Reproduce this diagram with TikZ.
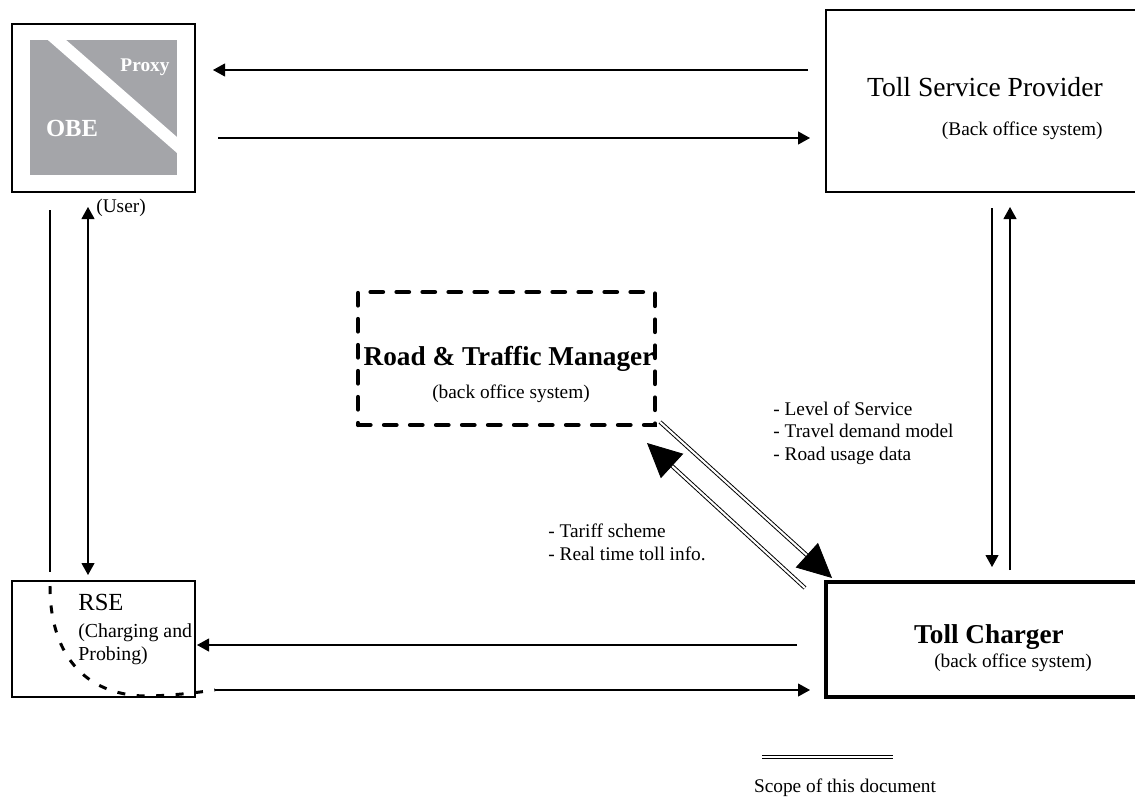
\documentclass[tikz,border=0pt]{standalone}
\usepackage{fontspec}
\setmainfont{Liberation Serif}
\usetikzlibrary{arrows.meta,calc}
\definecolor{obegrey}{RGB}{164,165,169}

\begin{document}
\begin{tikzpicture}[x=0.2mm, y=-0.2mm, >={Triangle[length=2.4mm,width=2.6mm]},
  box/.style={draw, line width=0.8pt, inner sep=0pt, outer sep=0pt},
  dashbox/.style={draw, line width=2.4pt, line cap=round, dash pattern=on 2.5mm off 2.7mm, inner sep=0pt, outer sep=0pt},
  link/.style={line width=0.6pt},
  curvedash/.style={line width=1.7pt, dash pattern=on 1.6mm off 2.3mm},
  scopeline/.style={double, line width=0.55pt, double distance=1.2pt},
  bighead/.style={-{Triangle[length=6.8mm,width=6.6mm]}, line width=0.5pt},
  bigfont/.style={font=\fontsize{15.7}{18}\selectfont},
  boldfont/.style={font=\bfseries\fontsize{15.5}{18}\selectfont},
  smallfont/.style={font=\fontsize{11}{12.8}\selectfont}]
\useasboundingbox (0,0) rectangle (1135,798);
\clip (0,0) rectangle (1135,798);

% boxes
\node[box, minimum width=36.6mm, minimum height=33.6mm] (obe) at (103.5,108) {};
\node[box, minimum width=63.2mm, minimum height=36.4mm] (tsp) at (984,101) {};
\node[box, minimum width=36.6mm, minimum height=23.2mm] (rse) at (103.5,639) {};
\node[box, line width=2.4pt, minimum width=63.2mm, minimum height=23mm] (tc) at (984,639.5) {};
\node[dashbox, minimum width=59.4mm, minimum height=26.6mm] (rtm) at (506.5,358.5) {};

% OBE / proxy block
\fill[obegrey] (30,40) rectangle (177,175);
\begin{scope}
  \clip (30,40) rectangle (177,175);
  \draw[white, line width=2.4mm] (45,29.5) -- (190,156.4);
\end{scope}
\node[text=white, font=\bfseries\fontsize{11}{13}\selectfont, anchor=base] (proxy) at (145,72) {Proxy};
\node[text=white, font=\bfseries\fontsize{14}{16}\selectfont, anchor=base] (obetext) at (72,137) {OBE};
\node[smallfont, anchor=base west, inner sep=0pt] (user) at (96,212) {(User)};

% texts
\node[bigfont, anchor=base east, inner sep=0pt] (tsptitle) at (1103,97) {Toll Service Provider};
\node[smallfont, anchor=base east, inner sep=0pt] (tspsub) at (1103,136) {(Back office system)};
\node[boldfont, anchor=base, inner sep=0pt] (tctitle) at (989,643) {Toll Charger};
\node[smallfont, anchor=base, inner sep=0pt] (tcsub) at (1013,667) {(back office system)};
\node[boldfont, anchor=base, inner sep=0pt] (rtmtitle) at (509,365) {Road \& Traffic Manager};
\node[smallfont, anchor=base, inner sep=0pt] (rtmsub) at (511,398) {(back office system)};
\node[font=\fontsize{14}{16}\selectfont, anchor=base west, inner sep=0pt] (rsetitle) at (78,610) {RSE};
% multi-line nodes: base is the last line
\node[font=\fontsize{11.3}{13}\selectfont, anchor=base west, align=left, inner sep=0pt] (rsesub) at (78,660) {(Charging and\\Probing)};
\node[smallfont, anchor=base west, align=left, inner sep=0pt] (rtmdata) at (773,460) {- Level of Service\\- Travel demand model\\- Road usage data};
\node[smallfont, anchor=base west, align=left, inner sep=0pt] (tcdata) at (548,560) {- Tariff scheme\\- Real time toll info.};

% OBE <-> TSP
\draw[link, ->, shorten <=3.6mm, shorten >=3.6mm] (tsp.west |- 0,70) -- (obe.east |- 0,70);
\draw[link, ->, shorten <=4.6mm, shorten >=3.2mm] (obe.east |- 0,138) -- (tsp.west |- 0,138);

% OBE <-> RSE
\draw[link, <->, shorten <=3mm, shorten >=1.2mm] (obe.south -| 88,0) -- (rse.north -| 88,0);
\draw[link, shorten <=3.6mm, shorten >=1.8mm] (obe.south -| 50,0) -- (rse.north -| 50,0);
\coordinate (obein) at (215,690);
\draw[curvedash] (rse.north -| 50,0) ++(0,5) .. controls (50,660) and (90,697) .. (150,696)
  .. controls (180,695) and (200,692) .. (obein);

% TSP <-> TC
\draw[link, ->, shorten <=3.2mm, shorten >=3mm] (tsp.south -| 992,0) -- (tc.north -| 992,0);
\draw[link, ->, shorten <=2.4mm, shorten >=3mm] (tc.north -| 1010,0) -- (tsp.south -| 1010,0);

% TC <-> RSE
\draw[link, ->, shorten <=5.8mm, shorten >=0.4mm] (tc.west |- 0,645) -- (rse.east |- 0,645);
\draw[link, ->, shorten >=3.2mm] (obein) -- (tc.west |- 0,690);

% RTM <-> TC (scope of this document)
\coordinate (rtmout) at ([shift={(5,-3)}]rtm.south east);
\coordinate (tcin) at ([shift={(6,-4)}]tc.north west);
\coordinate (tcout) at ([shift={(-21,6)}]tc.north west);
\coordinate (rtmin) at ([shift={(-8,18)}]rtm.south east);
\draw[scopeline, shorten >=6.7mm] (rtmout) -- (tcin);
\draw[bighead] ($(tcin)!6.8mm!(rtmout)$) -- (tcin);
\draw[scopeline, shorten >=6.7mm] (tcout) -- (rtmin);
\draw[bighead] ($(rtmin)!6.8mm!(tcout)$) -- (rtmin);

% legend
\coordinate (legl) at (762,757);
\coordinate (legr) at (893,757);
\draw[scopeline] (legl) -- (legr);
\node[smallfont, anchor=base, inner sep=0pt] (legtext) at (845,792) {Scope of this document};
\end{tikzpicture}
\end{document}
